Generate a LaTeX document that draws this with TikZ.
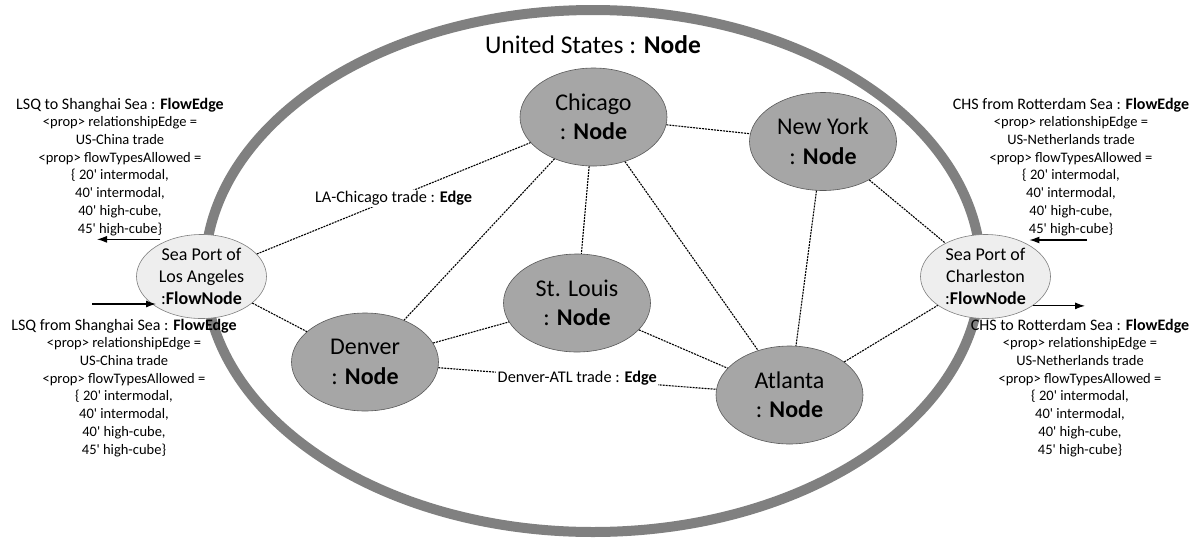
\documentclass[tikz,border=0pt]{standalone}
\usepackage{fontspec}
\setmainfont{Carlito}[Ligatures=TeXOff]
\usetikzlibrary{shapes.geometric,arrows.meta}
\definecolor{ringgray}{HTML}{808080}
\definecolor{nodefill}{HTML}{A6A6A6}
\definecolor{nodeline}{HTML}{595959}
\definecolor{portfill}{HTML}{EEEEEE}
\definecolor{portline}{HTML}{7F7F7F}
\begin{document}
\begin{tikzpicture}[x=1pt,y=-1pt,
  city/.style={ellipse, draw=nodeline, fill=nodefill, line width=0.6pt, minimum width=147pt, minimum height=98pt, inner sep=0pt, align=center, font=\fontsize{24}{29.5}\selectfont},
  port/.style={ellipse, draw=portline, fill=portfill, line width=0.6pt, minimum width=130pt, minimum height=84pt, inner sep=0pt},
  porttext/.style={align=center, inner sep=0pt, font=\fontsize{18}{22}\selectfont},
  link/.style={dash pattern=on 2pt off 1pt, line width=1.1pt},
  flow/.style={line width=1.1pt, -{Latex[length=10pt,width=7pt]}},
  edgelabel/.style={fill=white, inner sep=1.5pt, font=\fontsize{16.3}{19}\selectfont},
  infotext/.style={align=center, inner sep=0pt, font=\fontsize{14.5}{17.7}\selectfont},
  infotitle/.style={font=\fontsize{16}{17.7}\selectfont}
]
\useasboundingbox (0,0) rectangle (1203,539);

% container
\node[draw=ringgray, line width=10pt, ellipse, minimum width=776pt, minimum height=522pt, inner sep=0pt] (us) at (593,271) {};
\node[font=\fontsize{25.5}{30}\selectfont, inner sep=0pt] (ustitle) at (593,45) {United States : \textbf{Node}};

% city nodes
\node[city] (chi) at (593.5,117) {Chicago\\: \textbf{Node}};
\node[city] (ny) at (823,141.5) {New York\\: \textbf{Node}};
\node[city] (stl) at (577,303) {St. Louis\\: \textbf{Node}};
\node[city] (den) at (365,362) {Denver\\: \textbf{Node}};
\node[city] (atl) at (789.5,395) {Atlanta\\: \textbf{Node}};

% ports
\node[port] (la) at (201.5,276.5) {};
\node[porttext] (latext) at (la.center) {Sea Port of\\Los Angeles\\:\textbf{FlowNode}};
\node[port] (ch) at (985.5,276.5) {};
\node[porttext] (chtext) at (ch.center) {Sea Port of\\Charleston\\:\textbf{FlowNode}};

% edges
\draw[link] (la) -- node[edgelabel] (lachilbl) {LA-Chicago trade : \textbf{Edge}} (chi);
\draw[link] (la) -- (den);
\draw[link] (chi) -- (ny);
\draw[link] (chi) -- (stl);
\draw[link] (chi) -- (den);
\draw[link] (chi) -- (atl);
\draw[link] (ny) -- (atl);
\draw[link] (ny) -- (ch);
\draw[link] (den) -- (stl);
\draw[link] (den) -- node[edgelabel] (denatllbl) {Denver-ATL trade : \textbf{Edge}} (atl);
\draw[link] (stl) -- (atl);
\draw[link] (atl) -- (ch);

% flow arrows
\coordinate (laOutEnd) at (97,238);
\coordinate (laInStart) at (92,304);
\coordinate (chInStart) at (1087,240);
\coordinate (chOutEnd) at (1085,305);
\draw[flow, shorten <=10pt] (la.130) -- (la.130 -| laOutEnd);
\draw[flow, shorten >=-5pt] (laInStart) -- (laInStart -| la.208);
\draw[flow, shorten >=17pt] (chInStart) -- (chInStart -| ch.55);
\draw[flow] (ch.-32) -- (ch.-32 -| chOutEnd);

% flow edge descriptions (anchor base = baseline of last line)
\node[infotext, anchor=base] (lsqto) at (120,233) {{\fontsize{16}{17.7}\selectfont LSQ to Shanghai Sea : \textbf{FlowEdge}}\\<prop> relationshipEdge =\\US-China trade\\<prop> flowTypesAllowed =\\\{ 20' intermodal,\\40' intermodal,\\40' high-cube,\\45' high-cube\}};
\node[infotext, anchor=base] (lsqfrom) at (124,454) {{\fontsize{16}{17.7}\selectfont LSQ from Shanghai Sea : \textbf{FlowEdge}}\\<prop> relationshipEdge =\\US-China trade\\<prop> flowTypesAllowed =\\\{ 20' intermodal,\\40' intermodal,\\40' high-cube,\\45' high-cube\}};
\node[infotext, anchor=base] (chsfrom) at (1071,233) {{\fontsize{16}{17.7}\selectfont CHS from Rotterdam Sea : \textbf{FlowEdge}}\\<prop> relationshipEdge =\\US-Netherlands trade\\<prop> flowTypesAllowed =\\\{ 20' intermodal,\\40' intermodal,\\40' high-cube,\\45' high-cube\}};
\node[infotext, anchor=base] (chsto) at (1080,454) {{\fontsize{16}{17.7}\selectfont CHS to Rotterdam Sea : \textbf{FlowEdge}}\\<prop> relationshipEdge =\\US-Netherlands trade\\<prop> flowTypesAllowed =\\\{ 20' intermodal,\\40' intermodal,\\40' high-cube,\\45' high-cube\}};
\end{tikzpicture}
\end{document}
